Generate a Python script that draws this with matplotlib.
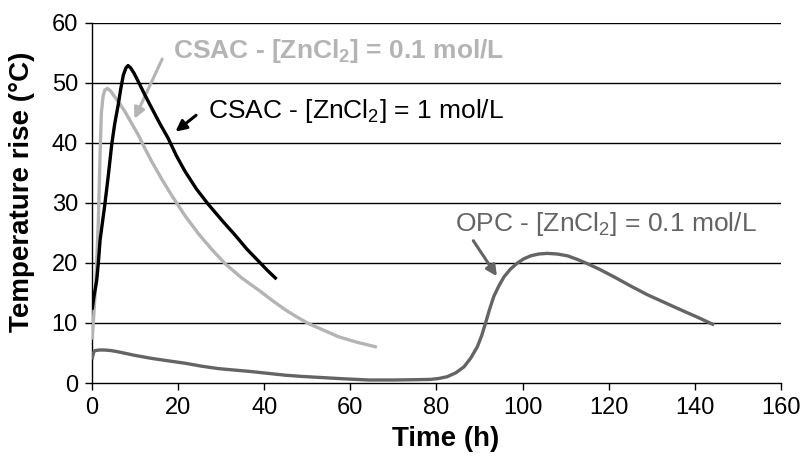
import matplotlib
matplotlib.use("Agg")
import matplotlib.pyplot as plt

plt.rcParams['font.family'] = ['Liberation Sans', 'DejaVu Sans']
plt.rcParams['mathtext.fontset'] = 'custom'
plt.rcParams['mathtext.rm'] = 'Liberation Sans'
plt.rcParams['mathtext.bf'] = 'Liberation Sans:bold'

# CSAC - [ZnCl2] = 1 mol/L (black)
csac1_t = [0.1, 0.5, 1.1, 1.5, 1.9, 2.4, 3.0, 3.8, 4.6, 5.3, 6.1, 6.7, 7.3, 7.9, 8.4, 9.0, 9.8, 10.8,
           12.3, 13.9, 15.8, 17.7, 19.6, 21.6, 24.3, 27.0, 30.2, 33.3, 36.0, 38.7, 40.7, 42.6]
csac1_T = [12.5, 14.5, 17.0, 20.0, 23.8, 26.5, 29.7, 34.5, 39.7, 43.2, 46.3, 49.0, 51.3, 52.5, 52.9, 52.5,
           51.6, 50.2, 48.0, 45.8, 43.2, 40.8, 37.9, 35.3, 32.3, 29.8, 27.1, 24.6, 22.3, 20.3, 18.8, 17.5]

# CSAC - [ZnCl2] = 0.1 mol/L (light grey)
csac01_t = [0.1, 0.5, 1.0, 1.5, 1.9, 2.2, 2.6, 3.0, 3.6, 4.4, 5.3, 6.5, 7.7, 9.2, 10.8, 12.3, 13.9, 16.2,
            18.5, 21.5, 24.7, 27.8, 30.9, 34.8, 38.7, 41.8, 44.9, 47.6, 50.3, 53.8, 57.3, 61.5, 65.8]
csac01_T = [7.5, 12.0, 18.0, 27.0, 38.0, 45.0, 47.8, 48.8, 49.1, 48.6, 47.7, 46.5, 45.2, 43.3, 41.3, 39.1,
            36.9, 34.0, 31.3, 28.0, 24.9, 22.3, 19.9, 17.5, 15.5, 13.8, 12.2, 11.0, 9.9, 8.8, 7.7, 6.8, 6.05]

# OPC - [ZnCl2] = 0.1 mol/L (dark grey)
opc_t = [0.1, 0.4, 0.7, 1.8, 3.0, 4.5, 6.1, 10.0, 13.9, 17.7, 21.6, 25.5, 29.4, 33.2, 37.1, 41.0, 44.9,
         48.7, 52.6, 58.5, 64.3, 70.0, 75.0, 78.6, 80.5, 82.5, 84.5, 86.4, 88.0, 89.5, 90.5, 91.4, 92.3,
         93.3, 94.5, 95.7, 97.2, 98.8, 100.3, 101.9, 103.8, 105.7, 108.0, 110.4, 112.7, 115.0, 118.0,
         121.2, 125.0, 129.0, 133.0, 136.7, 140.5, 144.1]
opc_T = [4.2, 5.1, 5.4, 5.5, 5.5, 5.4, 5.2, 4.6, 4.1, 3.7, 3.3, 2.8, 2.4, 2.15, 1.9, 1.6, 1.3,
         1.1, 0.94, 0.7, 0.5, 0.5, 0.55, 0.6, 0.75, 1.05, 1.7, 2.7, 4.2, 6.05, 7.9, 10.0, 12.2,
         14.4, 16.2, 17.7, 19.0, 20.0, 20.7, 21.2, 21.5, 21.6, 21.5, 21.2, 20.6, 19.9, 18.9,
         17.7, 16.2, 14.7, 13.4, 12.2, 11.0, 9.8]

x_ticks = [0, 20, 40, 60, 80, 100, 120, 140, 160]
y_ticks = [0, 10, 20, 30, 40, 50, 60]

c_black = '#000000'
c_light = '#b4b4b4'
c_dark = '#646464'

fig = plt.figure(figsize=(8.06, 4.68), dpi=100)
ax = fig.add_axes([0.114, 0.1816, 0.855, 0.7694])

for y in y_ticks[1:]:
    ax.axhline(y, color='black', lw=1.0, zorder=1)

lw = 2.4
ax.plot(opc_t, opc_T, color=c_dark, lw=lw, zorder=3, solid_joinstyle='round')
ax.plot(csac01_t, csac01_T, color=c_light, lw=lw, zorder=3, solid_joinstyle='round')
ax.plot(csac1_t, csac1_T, color=c_black, lw=lw, zorder=4, solid_joinstyle='round')

ax.set_xlim(0, 160)
ax.set_ylim(0, 60)
ax.set_xticks(x_ticks)
ax.set_yticks(y_ticks)
ax.tick_params(direction='out', length=5, width=1, labelsize=17, pad=5, colors='black')
for s in ['top', 'right']:
    ax.spines[s].set_visible(False)
for s in ['left', 'bottom']:
    ax.spines[s].set_linewidth(1.0)
    ax.spines[s].set_color('black')

ax.set_xlabel('Time (h)', fontsize=20, fontweight='bold', labelpad=2)
ax.xaxis.set_label_coords(0.514, -0.118)
ax.set_ylabel('Temperature rise (°C)', fontsize=20, fontweight='bold', labelpad=6)
ax.yaxis.set_label_coords(-0.083, 0.53)

# annotations
ax.text(18.8, 55.4, r'CSAC - [ZnCl$_\mathbf{2}$] = 0.1 mol/L', color=c_light, fontsize=19,
        fontweight='bold', va='center', ha='left')
ax.annotate('', xy=(9.6, 43.6), xytext=(16.6, 54.4),
            arrowprops=dict(arrowstyle='-|>', color=c_light, lw=2.2, mutation_scale=16))

ax.text(26.9, 45.4, r'CSAC - [ZnCl$_\mathrm{2}$] = 1 mol/L', color=c_black, fontsize=19,
        va='center', ha='left')
ax.annotate('', xy=(18.9, 41.6), xytext=(24.7, 44.9),
            arrowprops=dict(arrowstyle='-|>', color=c_black, lw=2.2, mutation_scale=16))

ax.text(84.3, 26.5, r'OPC - [ZnCl$_\mathrm{2}$] = 0.1 mol/L', color=c_dark, fontsize=19,
        va='center', ha='left')
ax.annotate('', xy=(94.4, 17.4), xytext=(88.2, 24.1),
            arrowprops=dict(arrowstyle='-|>', color=c_dark, lw=2.2, mutation_scale=16))

fig.savefig('out.png', dpi=100)
